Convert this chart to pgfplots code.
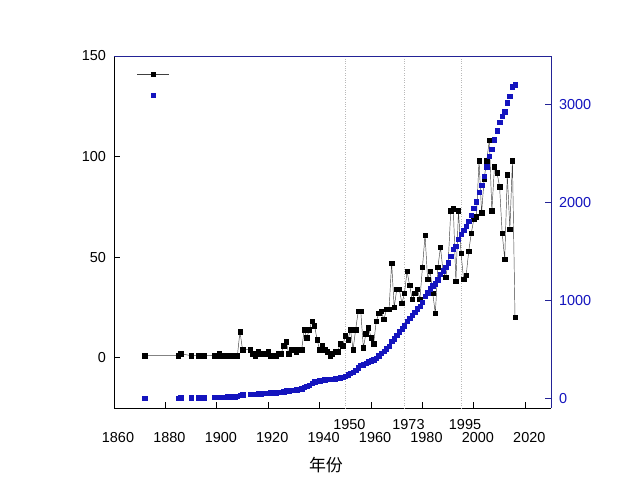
\documentclass[border=0pt]{standalone}
\usepackage{pgfplots}
\pgfplotsset{compat=1.18}
\usepackage{pgfplotstable}
\usepackage{fontspec}
\setmainfont{Liberation Sans}
\newfontfamily\cjk{Noto Sans CJK SC}
\definecolor{myblue}{RGB}{20,20,190}
\definecolor{axblue}{RGB}{35,35,150}
\pgfplotsset{/pgf/number format/1000 sep={},
  longline legend/.style={legend image code/.code={\draw[mark repeat=2,mark phase=2,##1] plot coordinates {(0bp,0bp) (16bp,0bp) (32bp,0bp)};}},
  centermark legend/.style={legend image code/.code={\draw[##1] plot coordinates {(16bp,0bp)};}},
}

\pgfplotstableread{
year val
1872 1
1885 1
1886 2
1890 1
1893 1
1895 1
1899 1
1900 1
1901 2
1902 1
1903 1
1904 1
1905 1
1906 1
1907 1
1908 1
1909 13
1910 4
1913 4
1914 2
1915 1
1916 3
1917 2
1918 2
1919 2
1920 3
1921 1
1922 1
1923 1
1924 2
1925 2
1926 6
1927 8
1928 2
1929 4
1930 4
1931 3
1932 4
1933 4
1934 14
1935 10
1936 14
1937 18
1938 16
1939 9
1940 4
1941 6
1942 4
1943 3
1944 1
1945 2
1946 3
1947 3
1948 7
1949 6
1950 11
1951 9
1952 14
1953 4
1954 14
1955 23
1956 23
1957 5
1958 12
1959 15
1960 10
1961 7
1962 18
1963 22
1964 23
1965 19
1966 24
1967 24
1968 47
1969 25
1970 34
1971 34
1972 27
1973 32
1974 43
1975 36
1976 29
1977 32
1978 34
1979 29
1980 45
1981 61
1982 39
1983 43
1984 32
1985 22
1986 45
1987 55
1988 43
1989 40
1990 47
1991 73
1992 74
1993 38
1994 73
1995 52
1996 39
1997 41
1998 53
1999 62
2000 69
2001 70
2002 98
2003 72
2004 89
2005 98
2006 108
2007 73
2008 95
2009 92
2010 85
2011 62
2012 49
2013 91
2014 64
2015 98
2016 20
}\blackdata

\pgfplotstableread{
year cum
1872 1
1885 2
1886 4
1890 5
1893 6
1895 7
1899 8
1900 9
1901 11
1902 12
1903 13
1904 14
1905 15
1906 16
1907 17
1908 18
1909 31
1910 35
1913 39
1914 41
1915 42
1916 45
1917 47
1918 49
1919 51
1920 54
1921 55
1922 56
1923 57
1924 59
1925 61
1926 67
1927 75
1928 77
1929 81
1930 85
1931 88
1932 92
1933 96
1934 110
1935 120
1936 134
1937 152
1938 168
1939 177
1940 181
1941 187
1942 191
1943 194
1944 195
1945 197
1946 200
1947 203
1948 210
1949 216
1950 227
1951 240
1952 258
1953 266
1954 284
1955 311
1956 336
1957 343
1958 356
1959 373
1960 384
1961 393
1962 412
1963 435
1964 460
1965 480
1966 506
1967 532
1968 581
1969 608
1970 644
1971 680
1972 709
1973 742
1974 785
1975 821
1976 850
1977 881
1978 914
1979 941
1980 985
1981 1044
1982 1081
1983 1122
1984 1152
1985 1172
1986 1214
1987 1266
1988 1306
1989 1343
1990 1387
1991 1455
1992 1524
1993 1557
1994 1627
1995 1677
1996 1716
1997 1757
1998 1810
1999 1872
2000 1941
2001 2011
2002 2109
2003 2181
2004 2270
2005 2368
2006 2476
2007 2549
2008 2644
2009 2736
2010 2821
2011 2883
2012 2932
2013 3023
2014 3087
2015 3185
2016 3205
}\bluedata

\begin{document}
\fontsize{14.5}{17}\selectfont
\begin{tikzpicture}
\path (-114bp,-82bp) rectangle (526bp,408bp);
\begin{axis}[
  at={(0,0)}, anchor=south west,
  scale only axis, width=437bp, height=352bp,
  xmin=1860, xmax=2030, ymin=-25, ymax=150,
  axis x line*=bottom, axis y line*=left,
  axis line style={line width=0.9bp, black},
  xtick={1860,1880,...,2020}, ytick={0,50,100,150},
  tick align=inside, major tick length=6bp,
  tick style={line width=0.9bp, black},
  /pgf/number format/assume math mode=true,
  tick label style={font=\fontsize{14.5}{17}\selectfont},
  xticklabel style={yshift=-19bp, xshift=4bp},
  yticklabel style={xshift=-3bp},
  extra x ticks={1950,1973,1995},
  extra x tick style={grid=major, major tick length=0pt,
     major grid style={gray!55, dotted, line width=0.7bp},
     xticklabel style={yshift=13bp}},
  xlabel={\cjk 年份},
  xlabel style={at={(axis description cs:0.485,0)}, anchor=center, yshift=-57bp,
     font=\fontsize{17}{20}\selectfont},
  legend style={draw=none, fill=none, at={(rel axis cs:0.052,0.974)}, anchor=north west,
     inner sep=0pt, row sep=3bp, font=\fontsize{14.5}{17}\selectfont},
  legend cell align=left,
]
\addplot[black!75, line width=0.45bp, mark=square*, mark size=2.2bp,
   mark options={solid, fill=black, draw=black}, longline legend]
   table[x=year,y=val]{\blackdata};
\addlegendentry{\strut}
\addlegendimage{only marks, mark=square*, mark size=2.2bp, color=myblue, centermark legend}
\addlegendentry{\strut}
\end{axis}
\begin{axis}[
  at={(0,0)}, anchor=south west,
  scale only axis, width=437bp, height=352bp,
  xmin=1860, xmax=2030, ymin=-100, ymax=3500,
  axis y line*=right, axis x line*=top,
  axis line style={line width=0.9bp, axblue},
  xtick=\empty, ytick={0,1000,2000,3000},
  tick align=inside, major tick length=6bp,
  tick style={line width=0.9bp, axblue},
  /pgf/number format/assume math mode=true,
  tick label style={font=\fontsize{14.5}{17}\selectfont},
  yticklabel style={text=myblue, xshift=3bp},
]
\addplot[only marks, mark=square*, mark size=2.2bp, color=myblue]
   table[x=year,y=cum]{\bluedata};
\end{axis}
\end{tikzpicture}
\end{document}
